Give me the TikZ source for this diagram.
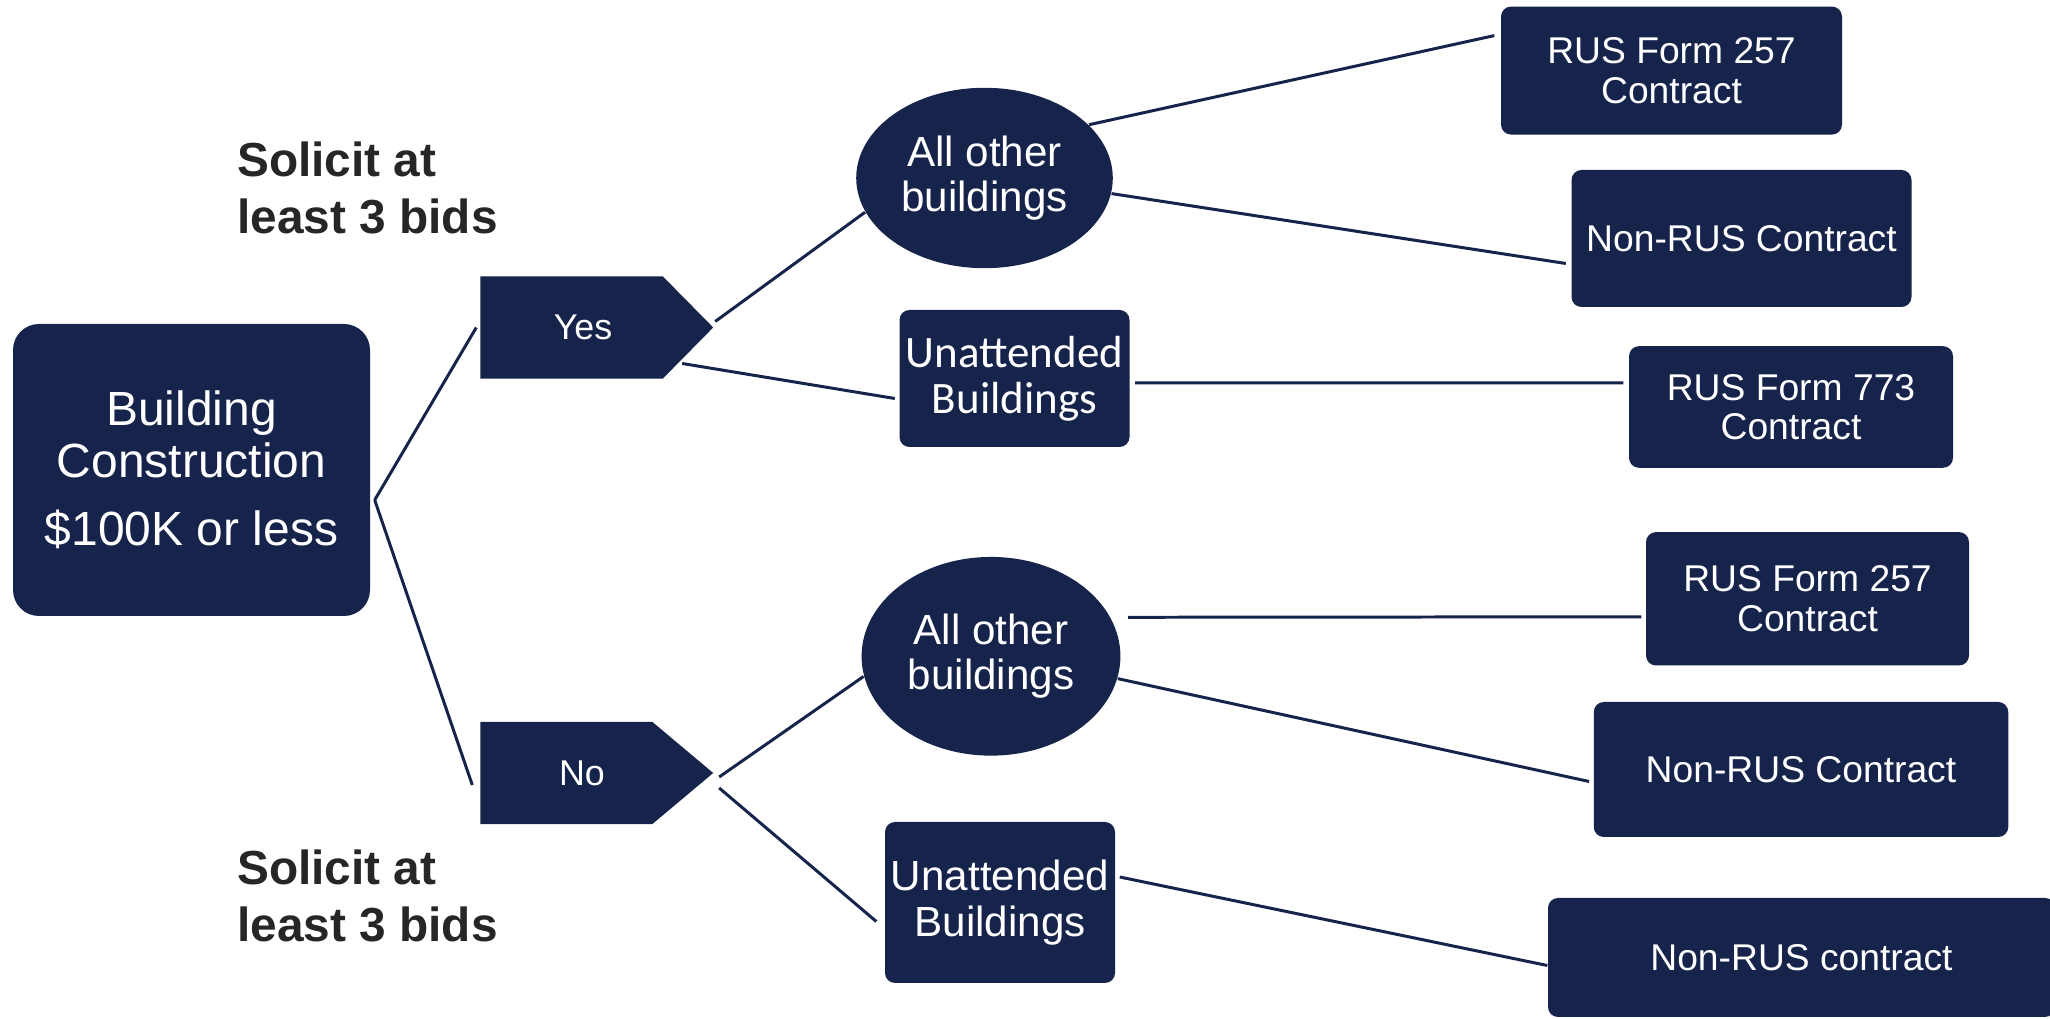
\documentclass[tikz,border=0pt]{standalone}
\usepackage{fontspec}
\setmainfont{Liberation Sans}
\newfontfamily\calib{Carlito}
\usetikzlibrary{calc,shapes.geometric}
\definecolor{navy}{HTML}{16234B}
\definecolor{lbl}{HTML}{262626}
\begin{document}
\begin{tikzpicture}[x=0.1mm,y=-0.1mm,
  conn/.style={draw=navy, line width=0.85pt},
  nbox/.style={fill=navy, text=white, rounded corners=1mm, align=center, inner sep=0pt,
     font=\fontsize{10.6}{11.2}\selectfont},
  oval/.style={ellipse, fill=navy, text=white, align=center, inner sep=0pt,
     font=\fontsize{12}{12.8}\selectfont},
  pent/.style={inner sep=0pt, minimum width=23.15mm, minimum height=10.1mm},
  ptext/.style={text=white, font=\fontsize{10.2}{11}\selectfont, inner sep=0pt},
  solicit/.style={text=lbl, anchor=west, align=left, inner sep=0pt,
     font=\fontsize{13.6}{16.4}\selectfont\bfseries}
]
\useasboundingbox (0,0) rectangle (2050,1019);
\clip (0,0) rectangle (2050,1019);

% main box
\node[fill=navy, text=white, rounded corners=2.6mm, align=center, inner sep=0pt,
      minimum width=35.7mm, minimum height=29.2mm,
      font=\fontsize{13.65}{14.8}\selectfont] (main) at (191.5,470)
      {Building\\Construction\\[4.5pt]\$100K or less};

% solicit labels
\node[solicit] (sol1) at (236.6,188) {Solicit at\\least 3 bids};
\node[solicit] (sol2) at (236.6,896) {Solicit at\\least 3 bids};

% Yes / No pentagons
\node[pent] (yes) at (596.75,327.5) {};
\fill[navy] (yes.north west) -- ($(yes.north east)+(-50.5,0)$) -- (yes.east)
   -- ($(yes.south east)+(-50.5,0)$) -- (yes.south west) -- cycle;
\node[ptext] (yest) at (583,327) {Yes};

\node[pent] (no) at (596.75,773) {};
\fill[navy] (no.north west) -- ($(no.north east)+(-61,0)$) -- (no.east)
   -- ($(no.south east)+(-61,0)$) -- (no.south west) -- cycle;
\node[ptext] (not) at (582,773) {No};

% second level
\node[oval, minimum width=25.66mm, minimum height=18.04mm] (ell1) at (984.5,178) {All other\\buildings};
\node[nbox, minimum width=23mm, minimum height=13.7mm,
      font=\calib\fontsize{12.8}{13.1}\selectfont] (un1) at (1014.5,378.5) {Unattended\\Buildings};
\node[oval, minimum width=25.88mm, minimum height=19.87mm] (ell2) at (991,656.3) {All other\\buildings};
\node[nbox, minimum width=23mm, minimum height=16.1mm,
      font=\fontsize{12}{13.2}\selectfont] (un2) at (1000,902.5) {Unattended\\Buildings};

% third level
\node[nbox, minimum width=34.1mm, minimum height=12.8mm] (rus1) at (1671.5,70.6) {RUS Form 257\\Contract};
\node[nbox, minimum width=34mm, minimum height=13.7mm] (non1) at (1741.5,238.5) {Non-RUS Contract};
\node[nbox, minimum width=32.4mm, minimum height=12.16mm] (r773) at (1791,407) {RUS Form 773\\Contract};
\node[nbox, minimum width=32.3mm, minimum height=13.34mm] (r257b) at (1807.5,598.8) {RUS Form 257\\Contract};
\node[nbox, minimum width=41.45mm, minimum height=13.5mm] (non2) at (1801,769.5) {Non-RUS Contract};
\node[nbox, minimum width=50.7mm, minimum height=11.9mm] (non3) at (1801.5,957.5) {Non-RUS contract};

% connectors
\coordinate (mo) at ($(main.east)+(4,30)$);
\draw[conn] (mo) -- ($(yes.west)+(-4,0)$);
\draw[conn] (mo) -- ($(no.west)+(-8,12)$);
\draw[conn] ($(yes.east)+(2,-6)$) -- (ell1.196);
\draw[conn] ($(yes.east)+(-31,36)$) -- ($(un1.west)+(-4,20)$);
\draw[conn] (ell1.27) -- ($(rus1.west)+(-6,-35)$);
\draw[conn] (ell1.353) -- ($(non1.west)+(-5,25)$);
\draw[conn] ($(un1.east)+(5,4.5)$) -- ($(r773.west)+(-5,-24)$);
\draw[conn] ($(no.east)+(6,4)$) -- (ell2.189);
\draw[conn] ($(no.east)+(6,15)$) -- ($(un2.west)+(-8,19)$);
\draw[conn] ($(ell2.east)+(7,-39)$) -- ($(r257b.west)+(-4,18)$);
\draw[conn] (ell2.350) -- ($(non2.west)+(-4,12)$);
\draw[conn] ($(un2.east)+(4,-25.5)$) -- ($(non3.west)+(0,8)$);
\end{tikzpicture}
\end{document}
